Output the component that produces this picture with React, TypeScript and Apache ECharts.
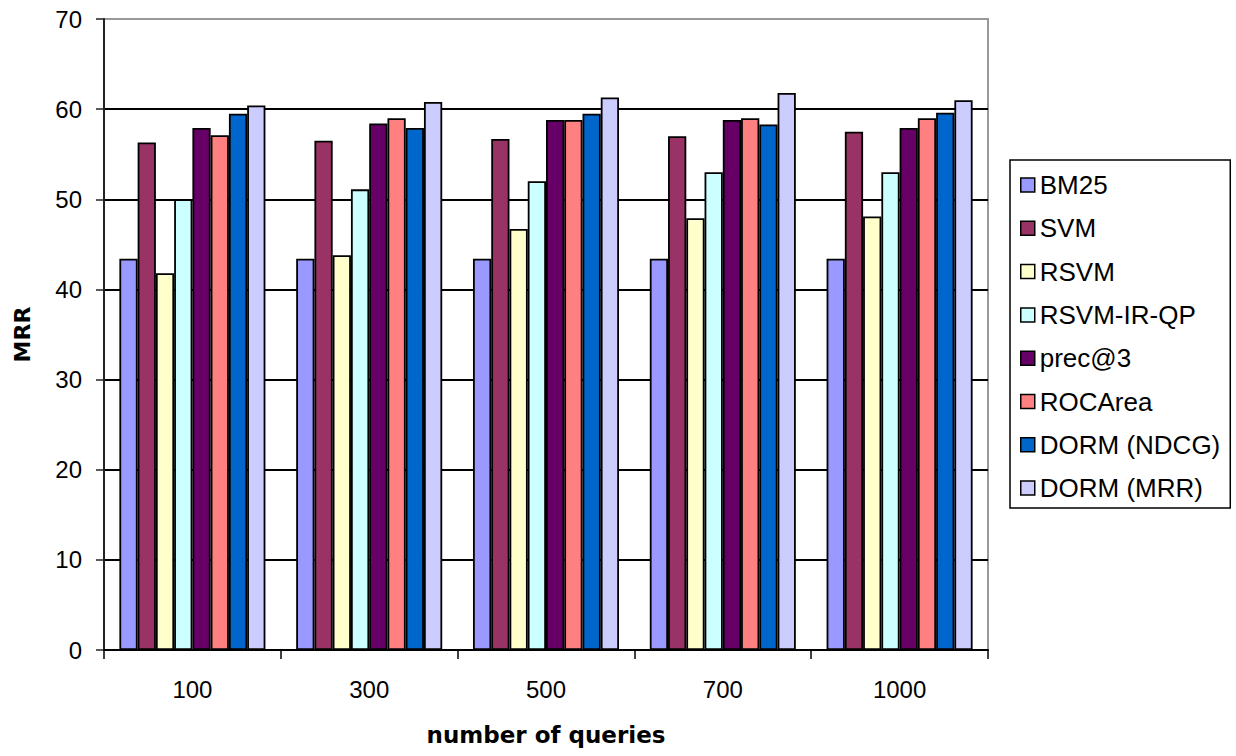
import React, { useEffect, useRef } from "react";
import * as echarts from "echarts";

const categories = ["100", "300", "500", "700", "1000"];
const seriesNames = ["BM25", "SVM", "RSVM", "RSVM-IR-QP", "prec@3", "ROCArea", "DORM (NDCG)", "DORM (MRR)"];
const bm25 = [43.4, 43.4, 43.4, 43.4, 43.4];
const svm = [56.3, 56.5, 56.7, 57.0, 57.5];
const rsvm = [41.8, 43.8, 46.7, 47.9, 48.1];
const rsvmIrQp = [50.0, 51.1, 52.0, 53.0, 53.0];
const prec3 = [57.9, 58.4, 58.8, 58.8, 57.9];
const rocArea = [57.1, 59.0, 58.8, 59.0, 59.0];
const dormNdcg = [59.5, 57.9, 59.5, 58.3, 59.6];
const dormMrr = [60.4, 60.8, 61.3, 61.8, 61.0];
const seriesValues = [bm25, svm, rsvm, rsvmIrQp, prec3, rocArea, dormNdcg, dormMrr];
const colors = ["#9999FF", "#993366", "#FFFFCC", "#CCFFFF", "#660066", "#FF8080", "#0066CC", "#CCCCFF"];

export default function App() {
  const ref = useRef<HTMLDivElement>(null);
  useEffect(() => {
    if (!ref.current) return;
    const chart = echarts.init(ref.current, null, { renderer: "svg" });
    const font = "'Liberation Sans', Arial, sans-serif";
    chart.setOption({
      animation: false,
      backgroundColor: "#fff",
      grid: {
        left: 104,
        right: 248,
        top: 19,
        bottom: 106,
        show: true,
        borderColor: "#999",
        borderWidth: 2,
        backgroundColor: "transparent",
      },
      legend: {
        orient: "vertical",
        left: 1010,
        top: 160,
        padding: [12, 10, 7, 10],
        itemGap: 17.3,
        itemWidth: 14,
        itemHeight: 14,
        itemTextGap: 6,
        icon: "rect",
        backgroundColor: "#fff",
        borderColor: "#000",
        borderWidth: 1.5,
        borderRadius: 0,
        textStyle: { fontFamily: font, fontSize: 26, color: "#000" },
        itemStyle: { borderColor: "#000", borderWidth: 1.5 },
        data: seriesNames,
      },
      xAxis: {
        type: "category",
        data: categories,
        name: "number of queries",
        nameLocation: "middle",
        nameGap: 73,
        nameTextStyle: { fontFamily: "'DejaVu Sans', sans-serif", fontWeight: "bold", fontSize: 23, color: "#000" },
        axisLine: { lineStyle: { color: "#000", width: 2 } },
        axisTick: { show: true, length: 9, lineStyle: { color: "#000", width: 1.5 } },
        axisLabel: { fontFamily: font, fontSize: 24, color: "#000", margin: 27 },
        splitLine: { show: false },
      },
      yAxis: {
        type: "value",
        min: 0,
        max: 70,
        interval: 10,
        name: "MRR",
        nameLocation: "middle",
        nameGap: 71,
        nameTextStyle: { fontFamily: "'DejaVu Sans', sans-serif", fontWeight: "bold", fontSize: 22, color: "#000" },
        axisLine: { show: true, lineStyle: { color: "#222", width: 2 } },
        axisTick: { show: true, length: 8, lineStyle: { color: "#222", width: 1.5 } },
        axisLabel: { fontFamily: font, fontSize: 24, color: "#000", margin: 22 },
        splitLine: {
          show: true,
          lineStyle: { color: ["#000", "#000", "#000", "#000", "#000", "#000", "#000", "#999"], width: 2 },
        },
      },
      series: seriesNames.map((name, i) => ({
        name,
        type: "bar",
        data: seriesValues[i],
        barGap: "0%",
        barCategoryGap: "17.4%",
        itemStyle: { color: colors[i], borderColor: "#000", borderWidth: 1.8 },
      })),
    });
    return () => chart.dispose();
  }, []);
  return <div ref={ref} style={{ position: "absolute", left: 0, top: 0, width: 1236, height: 756 }} />;
}
